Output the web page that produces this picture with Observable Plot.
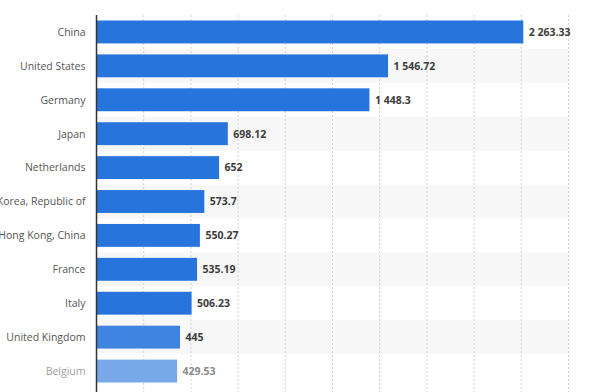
<!DOCTYPE html>
<html>
<head>
<meta charset="utf-8">
<script src="https://cdn.jsdelivr.net/npm/d3@7"></script>
<script src="https://cdn.jsdelivr.net/npm/@observablehq/plot@0.6"></script>
<style>
  html, body { margin: 0; padding: 0; background: #fff; }
  #chart svg { display: block; }
</style>
</head>
<body>
<div id="chart"></div>
<script>
const countries = ["China", "United States", "Germany", "Japan", "Netherlands", "Korea, Republic of", "Hong Kong, China", "France", "Italy", "United Kingdom", "Belgium"];
const values = [2263.33, 1546.72, 1448.3, 698.12, 652, 573.7, 550.27, 535.19, 506.23, 445, 429.53];
const xTicks = [0, 250, 500, 750, 1000, 1250, 1500, 1750, 2000, 2250, 2500];

const data = countries.map((c, i) => ({country: c, value: values[i], idx: i}));
const stripes = data.filter(d => d.idx % 2 === 1);
const fmt = d3.formatLocale({decimal: ".", thousands: " ", grouping: [3], currency: ["", ""]}).format(",");

const barFill = d => d.idx === 10 ? "#79a8ea" : d.idx === 9 ? "#3e84e0" : "#2775dc";
const labelFill = d => d.idx === 10 ? "#8a8a8a" : "#3c3c3c";

const chart = Plot.plot({
  width: 600,
  height: 392,
  marginTop: 15,
  marginBottom: 4,
  marginLeft: 96,
  marginRight: 32,
  style: {fontFamily: "'Open Sans', sans-serif", background: "#fff"},
  x: {domain: [0, 2500], axis: null},
  y: {domain: countries, padding: 0, round: false, axis: null, label: null},
  marks: [
    Plot.barX(stripes, {y: "country", x1: 0, x2: 2500, fill: "#f7f7f7"}),
    Plot.ruleX(xTicks.slice(1), {stroke: "#d2d2d2", strokeDasharray: "2,2", strokeWidth: 1, insetBottom: -4}),
    Plot.barX(data, {y: "country", x: "value", fill: barFill, insetTop: 5.5, insetBottom: 5.5}),
    Plot.text(data, {y: "country", x: "value", text: d => fmt(d.value), textAnchor: "start", dx: 5, fontWeight: "bold", fontSize: 10.5, fill: labelFill}),
    Plot.axisY({tickSize: 0, tickPadding: 11, fontSize: 10.5, label: null, fill: (d, i) => d === "Belgium" ? "#a0a0a0" : "#555"}),
    Plot.ruleX([0], {stroke: "#333", strokeWidth: 1.5, insetBottom: -4})
  ]
});
document.getElementById("chart").appendChild(chart);
</script>
</body>
</html>
